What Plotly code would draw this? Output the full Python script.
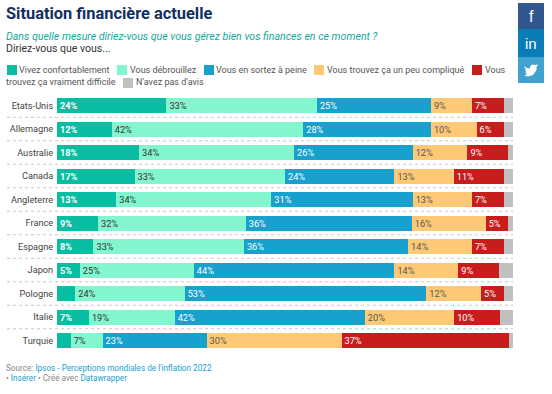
import plotly.graph_objects as go

W, H = 552, 394
countries = ["Etats-Unis", "Allemagne", "Australie", "Canada", "Angleterre", "France",
             "Espagne", "Japon", "Pologne", "Italie", "Turquie"]
confortable = [24, 12, 18, 17, 13, 9, 8, 5, 4, 7, 3]
debrouille = [33, 42, 34, 33, 34, 32.4, 33, 25, 24, 18.8, 7]
a_peine = [25, 28, 26, 24, 31, 36.4, 36, 44, 53, 41.7, 22.8]
complique = [9, 10, 12, 13, 13, 16.2, 14, 14, 12, 19.6, 29.6]
difficile = [7, 6, 9, 11, 7, 5, 7, 9, 5, 10, 36.8]
sans_avis = [2, 2, 1, 2, 2, 1, 2, 3, 2, 2.9, 0.8]
series_names = ["Vivez confortablement", "Vous débrouillez", "Vous en sortez à peine",
                "Vous trouvez ça un peu compliqué", "Vous trouvez ça vraiment difficile",
                "N'avez pas d'avis"]
series_values = [confortable, debrouille, a_peine, complique, difficile, sans_avis]
colors = ["#09bda2", "#83f5cf", "#18a1cd", "#fec976", "#c71e1d", "#c0c0c0"]
label_colors = ["#ffffff", "#333333", "#ffffff", "#555555", "#ffffff", "#333333"]
label_weights = [700, 400, 400, 400, 400, 400]
FONT = "Roboto"


def px(x):
    return x / W


def py(y):
    return 1 - y / H


fig = go.Figure()
for name, vals, col, lc, wt in zip(series_names, series_values, colors, label_colors, label_weights):
    shown = name != "N'avez pas d'avis"
    text = [f"{round(v)}%" if (v >= 5 and shown) else "" for v in vals]
    fig.add_trace(go.Bar(
        y=countries, x=vals, name=name, orientation="h",
        marker=dict(color=col, line=dict(width=0)),
        text=text, textposition="inside", insidetextanchor="start", textangle=0,
        constraintext="none",
        textfont=dict(family=FONT, size=9.2, color=lc, weight=wt),
        hoverinfo="x+y",
    ))

shapes = []
annotations = []


def label(x, y, text, size, color, **kw):
    annotations.append(dict(xref="paper", yref="paper", x=px(x), y=py(y), text=text,
                            showarrow=False, xanchor="left", yanchor="middle",
                            font=dict(family=FONT, size=size, color=color), borderpad=0,
                            borderwidth=0, **kw))


def rect(x0, y0, x1, y1, color):
    shapes.append(dict(type="rect", xref="paper", yref="paper", x0=px(x0), x1=px(x1),
                       y0=py(y0), y1=py(y1), fillcolor=color, line=dict(width=0)))


label(6, 14, "<b>Situation financière actuelle</b>", 16.4, "#12305e")
label(6, 36, "<i>Dans quelle mesure diriez-vous que vous gérez bien vos finances en ce moment ?</i>", 10.6, "#11a99a")
label(6, 48, "Diriez-vous que vous...", 10.5, "#333333")

legend_row1 = [(7, 19, colors[0], "Vivez confortablement"),
               (117, 130, colors[1], "Vous débrouillez"),
               (204, 216, colors[2], "Vous en sortez à peine"),
               (314, 327, colors[3], "Vous trouvez ça un peu compliqué"),
               (472, 485, colors[4], "Vous")]
for sx, tx, col, t in legend_row1:
    rect(sx, 65, sx + 10, 75, col)
    label(tx, 70, t, 9.0, "#555555")
label(6, 82, "trouvez ça vraiment difficile", 9.0, "#555555")
rect(123, 78, 133, 88, colors[5])
label(136, 82, "N'avez pas d'avis", 9.0, "#555555")

# dotted separators between the rows
for i in range(len(countries) - 1):
    shapes.append(dict(type="line", xref="paper", yref="y", x0=px(7), x1=px(513),
                       y0=i + 0.5, y1=i + 0.5, line=dict(color="#c8c8c8", width=1, dash="dot")))

# footer
link = "#18a1cd"
label(6, 368, f'Source: <span style="color:{link}">Ipsos - Perceptions mondiales de l\'inflation 2022</span>', 8.2, "#888888")
label(6, 378, f'• <span style="color:{link}">Insérer</span> • Créé avec <span style="color:{link}">Datawrapper</span>', 8.2, "#888888")

# share buttons
rect(518, 3, 544, 29, "#32578f")
rect(518, 29, 544, 57, "#0a7cb8")
rect(518, 57, 544, 83, "#41a2d0")
annotations.append(dict(xref="paper", yref="paper", x=px(531), y=py(16), text="f", showarrow=False,
                        font=dict(family="Liberation Sans", size=16, color="white"), xanchor="center", yanchor="middle"))
annotations.append(dict(xref="paper", yref="paper", x=px(531), y=py(43), text="in", showarrow=False,
                        font=dict(family="Liberation Sans", size=15, color="white"), xanchor="center", yanchor="middle"))
bird = [(524, 66), (527, 68), (530, 68.5), (530, 66.5), (532, 64.5), (535, 65), (538, 64.5), (536.5, 67),
        (536.5, 70), (533, 75), (528, 76.5), (524, 75.5), (527, 74.5), (525.5, 72.5), (526.5, 72), (525, 70), (526, 70)]
path = "M" + " L".join(f"{px(a):.5f},{py(b):.5f}" for a, b in bird) + " Z"
shapes.append(dict(type="path", xref="paper", yref="paper", path=path, fillcolor="white", line=dict(width=0)))

fig.update_layout(
    width=W, height=H, margin=dict(l=0, r=0, t=0, b=0, pad=0),
    paper_bgcolor="white", plot_bgcolor="white",
    barmode="stack", bargap=0.362, showlegend=False,
    font=dict(family=FONT),
    xaxis=dict(domain=[px(57), px(513)], range=[0, 100], visible=False, fixedrange=True),
    yaxis=dict(domain=[py(352.25), py(93.75)], autorange="reversed", showgrid=False, zeroline=False,
               showline=False, ticks="outside", ticklen=1, tickcolor="rgba(0,0,0,0)",
               tickfont=dict(family=FONT, size=9.2, color="#444444"), fixedrange=True),
    shapes=shapes, annotations=annotations,
)
fig.write_html("out.html", config=dict(displayModeBar=False),
               post_script="document.documentElement.style.margin='0';document.body.style.margin='0';document.body.style.overflow='hidden';")
